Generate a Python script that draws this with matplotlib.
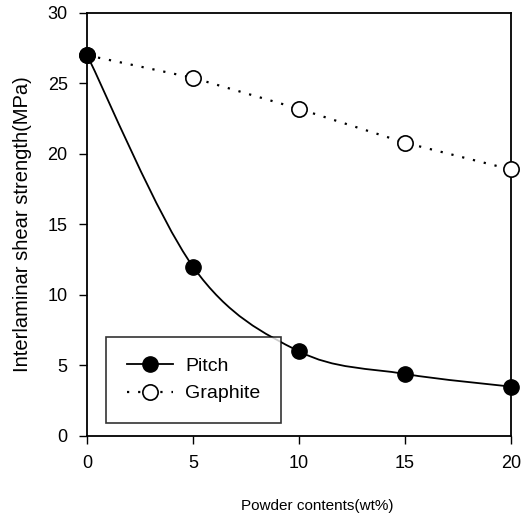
import matplotlib
matplotlib.use("Agg")
import matplotlib.pyplot as plt
from matplotlib.path import Path
from matplotlib.patches import PathPatch
from matplotlib.lines import Line2D

plt.rcParams['font.family'] = ['Liberation Sans', 'DejaVu Sans']

powder = [0, 5, 10, 15, 20]
pitch = [27.0, 12.0, 6.0, 4.4, 3.5]
graphite = [27.0, 25.4, 23.2, 20.8, 18.9]
xticks = [0, 5, 10, 15, 20]
yticks = [0, 5, 10, 15, 20, 25, 30]

fig = plt.figure(figsize=(5.25, 5.19), dpi=100)
ax = fig.add_axes([0.166, 0.160, 0.807, 0.815])

# smooth curve for pitch (Catmull-Rom as cubic Bezier path)
verts = [(powder[0], pitch[0])]
codes = [Path.MOVETO]
n = len(powder)
for i in range(n - 1):
    p0 = (powder[max(i - 1, 0)], pitch[max(i - 1, 0)])
    p1 = (powder[i], pitch[i])
    p2 = (powder[i + 1], pitch[i + 1])
    p3 = (powder[min(i + 2, n - 1)], pitch[min(i + 2, n - 1)])
    c1 = (p1[0] + (p2[0] - p0[0]) / 6, p1[1] + (p2[1] - p0[1]) / 6)
    c2 = (p2[0] - (p3[0] - p1[0]) / 6, p2[1] - (p3[1] - p1[1]) / 6)
    verts += [c1, c2, p2]
    codes += [Path.CURVE4] * 3
ax.add_patch(PathPatch(Path(verts, codes), facecolor='none', edgecolor='black',
                       lw=1.3, zorder=2, clip_on=False))

dot_style = (0, (1, 4))
ax.plot(powder, graphite, color='black', lw=1.6, linestyle=dot_style,
        marker='o', ms=11, mfc='white', mec='black', mew=1.2, zorder=3, clip_on=False)
ax.plot(powder, pitch, linestyle='none', marker='o', ms=11, mfc='black',
        mec='black', zorder=4, clip_on=False)

ax.set_xlim(0, 20)
ax.set_ylim(0, 30)
ax.set_xticks(xticks)
ax.set_yticks(yticks)
ax.tick_params(direction='out', length=6, width=1.0, labelsize=13, pad=8)
for s in ax.spines.values():
    s.set_linewidth(1.3)

ax.set_xlabel('Powder contents(wt%)', fontsize=11)
ax.xaxis.set_label_coords(0.542, -0.150)
ax.set_ylabel('Interlaminar shear strength(MPa)', fontsize=14.5, labelpad=11)

h1 = Line2D([], [], color='black', lw=1.3, marker='o', ms=11, mfc='black', mec='black')
h2 = Line2D([], [], color='black', lw=1.6, linestyle=dot_style, marker='o', ms=11,
            mfc='white', mec='black', mew=1.2)
leg = ax.legend([h1, h2], ['Pitch', 'Graphite'], loc='lower left',
                bbox_to_anchor=(0.045, 0.031), borderaxespad=0, fontsize=14,
                frameon=True, fancybox=False, edgecolor='black', handlelength=2.4,
                handletextpad=0.6, labelspacing=0.5, borderpad=1.05)
leg.get_frame().set_linewidth(1.2)

fig.savefig('out.png', dpi=100)
